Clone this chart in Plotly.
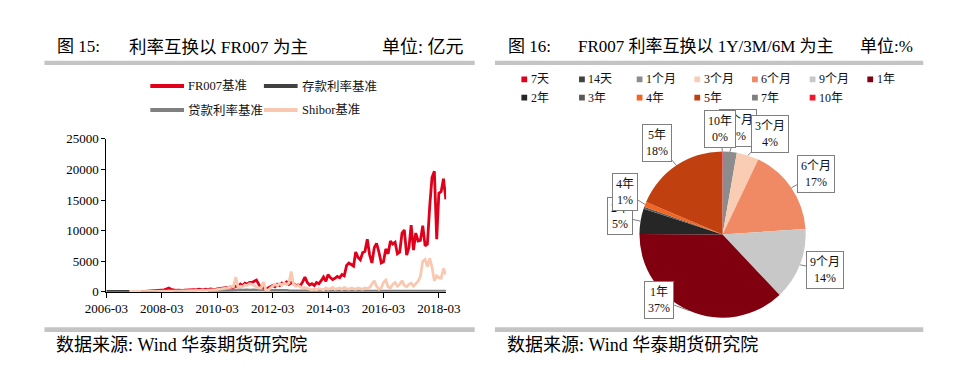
import math
import plotly.graph_objects as go
import pandas as pd

W, H = 962, 382
SERIF = "Liberation Serif, Noto Sans CJK SC, serif"

# ---------------- data: left line chart (monthly, 亿元) ----------------
months = pd.date_range("2006-03-01", periods=148, freq="MS")
x_tick_labels = ["2006-03", "2008-03", "2010-03", "2012-03", "2014-03", "2016-03", "2018-03"]
y_tick_vals = [0, 5000, 10000, 15000, 20000, 25000]

fr007 = [None] * 15 + [
    20, 40, 60, 80, 100, 150, 200, 250, 300,
    250, 300, 450, 600, 400, 250, 200, 250, 200, 200, 250, 300,
    250, 300, 350, 300, 400, 350, 300, 400, 350, 450, 400, 350,
    450, 500, 600, 550, 700, 650, 800, 700, 900, 800,
    1250, 1000, 1400, 1200, 1500, 1500, 1700, 1900, 1200, 500, 800, 300,
    600, 800, 1000, 800, 1200, 1000, 1400, 1300, 1600, 1200, 1500, 1300,
    1000, 1100, 1000, 1600, 2400, 1500, 1100, 1300, 1000, 1500, 1300, 1800,
    2400, 1700, 2800, 2300, 2000, 2200, 2500, 2300, 2800, 2600, 4300, 4700,
    4400, 4200, 6500, 5600, 5200, 6400, 6600, 8600, 6000, 4700, 7200, 7900,
    6500, 4700, 4900, 7000, 6200, 8300, 7800, 8100, 6200, 6500, 9600, 10100,
    6000, 7300, 10900, 6800, 9600, 8300, 8400, 10800, 7500, 7800, 14000, 18700,
    19700, 8600, 16100, 16400, 18500, 15100,
]
deposit = [60, 70, 60, 80, 70, 60, 70, 80, 60, 70, 60] + [None] * 137
loan = [None] * 44 + [
    50, 80, 100, 120, 150, 130, 160, 180, 200, 180, 220, 250,
    230, 260, 280, 250, 300, 280, 260, 300, 280, 250, 270, 300,
    280, 250, 230, 260, 240, 220, 200, 230, 210, 190, 200, 180,
    170, 160, 150, 140, 160, 130, 120, 140, 110, 120, 100, 110,
    100, 90, 110, 100, 90, 100, 110, 90, 100, 80, 90, 100,
    90, 80, 100, 90, 80, 90, 100, 80, 90, 100, 90, 80,
    90, 100, 80, 90, 100, 90, 80, 100, 90, 80, 90, 100,
    90, 80, 90, 100, 80, 90, 100, 90, 80, 90, 100, 90,
    80, 90, 100, 90, 80, 90, 100, 90,
]
shibor = [None] * 10 + [
    20, 30, 40, 50, 40, 60, 50, 70, 60, 80, 70,
    90, 80, 100, 120, 100, 150, 120, 100, 80, 100,
    120, 100, 150, 130, 150, 180, 150, 200, 180, 200,
    220, 200, 250, 230, 300, 280, 300,
    350, 400, 500, 450, 600, 700, 900, 800, 2400, 700,
    900, 800, 1100, 1000, 1300, 1200, 1000, 800, 600, 600, 1600, 300,
    200, 600, 900, 1200, 1000, 1300, 1100, 1400, 1200, 1400, 3300, 1200,
    900, 1000, 800, 600, 700, 500, 400, 300, 400, 300, 500, 400,
    300, 600, 400, 500, 700, 400, 500, 600, 400, 700, 500, 400,
    600, 500, 400, 600, 500, 400, 600, 500, 700, 1200, 1800, 900,
    400, 600, 1500, 1900, 800, 600, 1200, 1500, 900, 1200, 1800, 1000,
    800, 1200, 1400, 900, 1300, 1700, 2500, 5000, 5300, 4100, 5450, 4000,
    1800, 2600, 2300, 2200, 3800, 2800,
]
line_names = ["FR007基准", "存款利率基准", "贷款利率基准", "Shibor基准"]
line_series = [fr007, deposit, loan, shibor]
line_colors = ["#E0001B", "#404040", "#808080", "#F8C8B0"]

# ---------------- data: right pie chart (%) ----------------
pie_labels = ["7天", "14天", "1个月", "3个月", "6个月", "9个月", "1年",
              "2年", "3年", "4年", "5年", "7年", "10年"]
pie_values = [0.02, 0.02, 2.7, 4.3, 16.8, 14.0, 37.0, 4.9, 0.4, 1.0, 18.4, 0.02, 0.1]
pie_colors = ["#E0001B", "#404040", "#8C8C8C", "#F9CDB4", "#F08A64", "#C8C8C8", "#800010",
              "#262626", "#595959", "#F26522", "#C0410F", "#7F7F7F", "#F0182C"]


def px(x):
    return x / W


def py(y):
    return 1 - y / H


fig = go.Figure()
for name, ys, col in zip(line_names, line_series, line_colors):
    fig.add_trace(go.Scatter(x=months, y=ys, mode="lines", name=name,
                             line=dict(color=col, width=2.8), connectgaps=False,
                             xaxis="x", yaxis="y"))

# pie geometry
PCX, PCY, PR = 719.5, 228.5, 86.5
fig.add_trace(go.Pie(labels=pie_labels, values=pie_values, sort=False,
                     direction="clockwise", rotation=0, textinfo="none",
                     marker=dict(colors=pie_colors, line=dict(width=0)),
                     domain=dict(x=[px(PCX - PR), px(PCX + PR)],
                                 y=[py(PCY + PR), py(PCY - PR)]),
                     showlegend=False))

annotations = []
shapes = []

# pie callout labels: tip at slice mid on the rim, box offset in px
label_offsets = {  # drawn in this order (later on top)
    "1个月": (8, -24),
    "3个月": (22, -21),
    "10年": (-2, -22),
    "6个月": (25, -14),
    "9个月": (25, 5),
    "1年": (-30, -11),
    "2年": (-20, -5),
    "4年": (-20, -12),
    "5年": (-19, -22),
}
total = sum(pie_values)
cum = {}
acc = 0.0
for lab, v in zip(pie_labels, pie_values):
    cum[lab] = (acc, acc + v)
    acc += v
for lab, (ax, ay) in label_offsets.items():
    a0, a1 = cum[lab]
    theta = (a0 + a1) / 2 / total * 2 * math.pi
    tx = PCX + PR * math.sin(theta)
    ty = PCY - PR * math.cos(theta)
    v = pie_values[pie_labels.index(lab)]
    pct = round(v / total * 100)
    annotations.append(dict(
        x=px(tx), y=py(ty), xref="paper", yref="paper",
        text=f"{lab}<br>{pct}%", showarrow=True, arrowhead=0, arrowwidth=1,
        arrowcolor="#7F7F7F", ax=ax, ay=ay, standoff=0,
        bgcolor="white", bordercolor="#7F7F7F", borderwidth=1, borderpad=3,
        font=dict(family=SERIF, size=12, color="#111111")))

# pie legend (manual, from categories)
rows = [pie_labels[:7], pie_labels[7:]]
row_y = [67, 86]
for r, labs in enumerate(rows):
    for i, lab in enumerate(labs):
        x0 = 510.5 + 59.9 * i
        col = pie_colors[pie_labels.index(lab)]
        shapes.append(dict(type="rect", xref="paper", yref="paper",
                           x0=px(x0), x1=px(x0 + 6), y0=py(row_y[r] + 3), y1=py(row_y[r] - 3),
                           fillcolor=col, line=dict(width=0)))
        annotations.append(dict(x=px(x0 + 7.5), y=py(row_y[r]), xref="paper", yref="paper",
                                text=lab, showarrow=False, xanchor="left", yanchor="middle",
                                font=dict(family=SERIF, size=12, color="#111111")))

# line-chart legend (manual)
leg_pos = [(125, 74), (243, 74), (125, 99), (243, 99)]
for name, col, (lx, ly) in zip(line_names, line_colors, leg_pos):
    shapes.append(dict(type="line", xref="paper", yref="paper",
                       x0=px(lx), x1=px(lx + 35), y0=py(ly), y1=py(ly),
                       line=dict(color=col, width=4)))
    annotations.append(dict(x=px(lx + 37), y=py(ly), xref="paper", yref="paper",
                            text=name, showarrow=False, xanchor="left", yanchor="middle",
                            font=dict(family=SERIF, size=12.5, color="#111111")))

# titles / sources
def txt(x, y, s, size=17, anchor="left"):
    annotations.append(dict(x=px(x), y=py(y), xref="paper", yref="paper", text=s,
                            showarrow=False, xanchor=anchor, yanchor="middle",
                            font=dict(family=SERIF, size=size, color="#000000")))

txt(26, 33, "图 15:")
txt(101, 33, "利率互换以 FR007 为主", size=17.5)
txt(453, 33, "单位: 亿元", anchor="right", size=18)
txt(494, 33, "图 16:")
txt(567, 33, "FR007 利率互换以 1Y/3M/6M 为主")
txt(919, 33, "单位:%", anchor="right")
txt(25, 344, "数据来源: Wind 华泰期货研究院", size=18)
txt(493, 344, "数据来源: Wind 华泰期货研究院", size=18)

for (x0, x1) in [(15, 462), (483, 928)]:
    for (y0, y1) in [(47.5, 52), (325, 330)]:
        shapes.append(dict(type="rect", xref="paper", yref="paper",
                           x0=px(x0), x1=px(x1), y0=py(y1), y1=py(y0),
                           fillcolor="#C4C4C4", line=dict(width=0), layer="below"))

fig.update_layout(
    width=W, height=H, margin=dict(l=0, r=0, t=0, b=0),
    paper_bgcolor="white", plot_bgcolor="white", showlegend=False,
    xaxis=dict(domain=[px(79.3), px(432.3)], type="date",
               range=["2006-03-01", "2018-06-05"],
               tickvals=[f"{t}-01" for t in x_tick_labels], ticktext=x_tick_labels,
               showline=True, linecolor="#000000", linewidth=1, ticks="outside",
               ticklen=5, tickcolor="#000000", showgrid=False, zeroline=False,
               tickfont=dict(family=SERIF, size=13, color="#000000")),
    yaxis=dict(domain=[py(288), py(129)], range=[0, 25000], tickvals=y_tick_vals,
               tickformat="d",
               showline=True, linecolor="#000000", linewidth=1, ticks="outside",
               ticklen=4, tickcolor="#000000", showgrid=False, zeroline=False,
               tickfont=dict(family=SERIF, size=13, color="#000000")),
    annotations=annotations, shapes=shapes,
)

fig.write_html("out.html")
